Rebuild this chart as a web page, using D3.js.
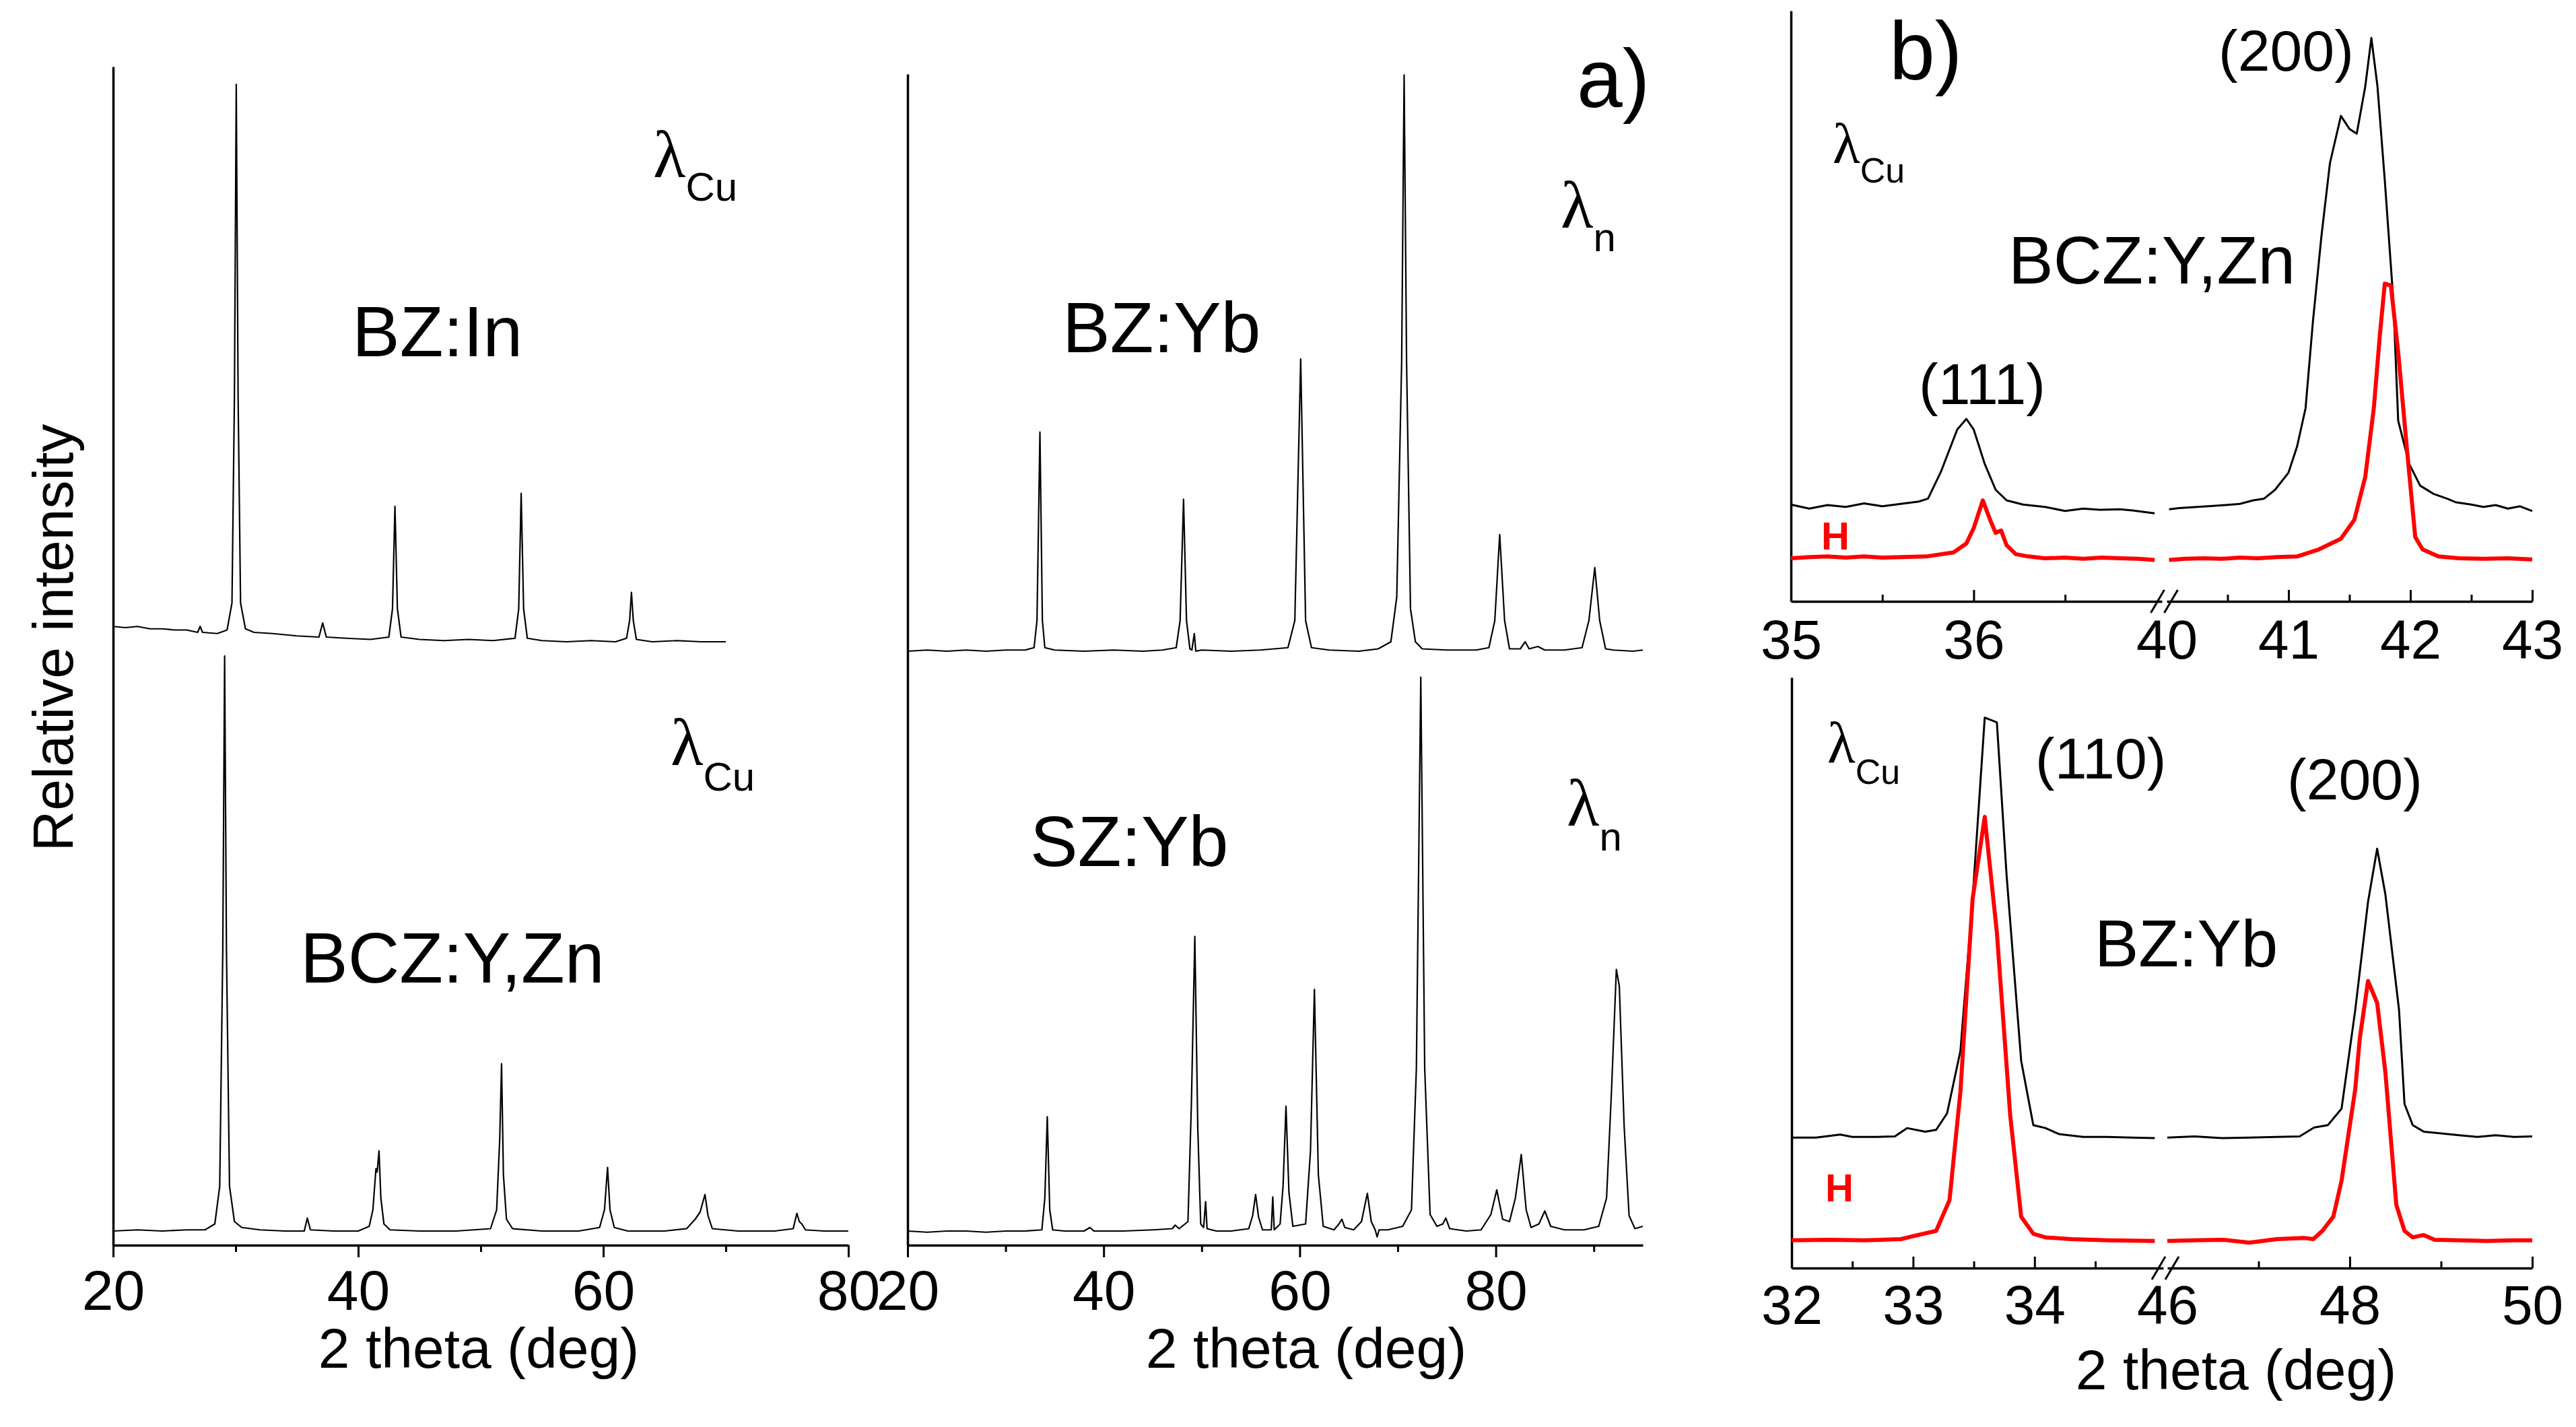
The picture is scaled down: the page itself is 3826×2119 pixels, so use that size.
<!DOCTYPE html>
<html><head><meta charset="utf-8">
<script src="https://cdn.jsdelivr.net/npm/d3@7/dist/d3.min.js"></script>
<style>
html,body{margin:0;padding:0;background:#fff;}
text{font-family:"Liberation Sans",Arial,Helvetica,sans-serif;fill:#000;}
</style>
</head><body>
<script>
// ---------------- DATA ----------------
// Panel a (2 theta in deg, relative intensity); upper traces are stacked by upperOffset
const ticksAL = [20, 40, 60, 80];
const minorAL = [30, 50, 70];
const ticksAR = [20, 40, 60, 80];
const minorAR = [30, 50, 70, 90];
const upperOffset = 50;

const bzIn = [[20,2.5],[21,2.4],[22,2.5],[23,2.3],[24,2.3],[25,2.2],[26,2.2],[26.9,2.0],[27.1,2.5],[27.3,2.0],[28.5,1.9],[29.3,2.2],[29.7,4.5],[29.9,22],[30.05,48.5],[30.2,22],[30.4,4.5],[30.8,2.3],[31.5,2.0],[33,1.9],[35,1.7],[36.8,1.6],[37.1,2.8],[37.4,1.6],[39,1.5],[41,1.4],[42.5,1.6],[42.8,4],[43.0,12.7],[43.2,4],[43.5,1.6],[45,1.4],[47,1.3],[49,1.4],[51,1.3],[52.8,1.5],[53.1,4],[53.3,13.8],[53.5,4],[53.8,1.5],[55,1.3],[57,1.2],[59,1.3],[61,1.2],[61.9,1.5],[62.15,3],[62.3,5.4],[62.45,3],[62.7,1.4],[64,1.2],[66,1.3],[68,1.2],[70,1.2]];

const bczYZn = [[20,1.2],[22,1.3],[24,1.2],[26,1.3],[27.5,1.3],[28.3,1.8],[28.7,5],[28.95,25],[29.1,50],[29.25,25],[29.5,5],[29.9,2],[30.5,1.5],[32,1.3],[34,1.2],[35.6,1.2],[35.85,2.3],[36.1,1.3],[38,1.2],[40,1.2],[40.9,1.6],[41.2,3],[41.45,6.5],[41.55,6.2],[41.7,8.0],[41.85,4],[42.1,1.8],[42.6,1.3],[45,1.2],[48,1.2],[50.8,1.4],[51.3,3],[51.55,9],[51.7,15.4],[51.85,6],[52.1,2.2],[52.6,1.4],[55,1.2],[58,1.2],[59.7,1.5],[60.1,3],[60.35,6.6],[60.55,3],[60.9,1.5],[62,1.2],[65,1.2],[66.8,1.4],[67.5,2.2],[67.9,2.8],[68.3,4.3],[68.55,2.5],[68.9,1.4],[71,1.2],[74,1.2],[75.5,1.4],[75.8,2.7],[76.0,2.0],[76.2,1.8],[76.5,1.3],[78,1.2],[80,1.2]];

const bzYb = [[20,0.4],[22,0.5],[24,0.4],[26,0.5],[28,0.4],[30,0.5],[32,0.5],[32.9,0.7],[33.2,3],[33.5,19.0],[33.75,3],[34,0.7],[35,0.5],[38,0.4],[41,0.5],[44,0.4],[46,0.5],[47.4,0.7],[47.8,3],[48.15,13.3],[48.45,3],[48.8,0.6],[49.0,0.5],[49.25,1.9],[49.4,0.4],[50,0.5],[53,0.4],[56,0.5],[58.8,0.7],[59.5,3],[60.1,25.2],[60.6,3],[61.2,0.7],[63,0.5],[66,0.4],[68,0.6],[69.3,1.2],[69.9,5],[70.4,25],[70.65,49.3],[70.9,25],[71.3,4],[71.8,1.2],[72.5,0.6],[75,0.5],[78,0.5],[79.3,0.7],[79.9,3],[80.4,10.3],[80.9,3],[81.4,0.6],[82.5,0.6],[83.0,1.2],[83.4,0.6],[84.3,0.8],[85,0.5],[87,0.5],[88.8,0.7],[89.5,3],[90.1,7.5],[90.6,3],[91.2,0.6],[92,0.5],[94,0.4],[95,0.5]];

const szYb = [[20,1.2],[22,1.1],[24,1.2],[26,1.2],[28,1.1],[30,1.2],[32,1.2],[33.7,1.3],[34.0,4],[34.25,10.9],[34.5,3],[34.8,1.3],[36,1.2],[38,1.2],[38.6,1.5],[39,1.2],[42,1.2],[45,1.3],[47,1.4],[47.3,1.7],[47.7,1.4],[48.6,2],[48.95,12],[49.3,26.2],[49.6,10],[49.9,1.8],[50.2,1.5],[50.4,3.7],[50.55,1.4],[51.5,1.2],[53,1.2],[54.8,1.4],[55.2,2.5],[55.5,4.3],[55.8,2.4],[56.2,1.3],[57.1,1.3],[57.25,4.1],[57.4,1.3],[58.0,1.8],[58.3,5],[58.6,11.8],[58.9,4.5],[59.3,1.6],[60.6,1.8],[61.1,8],[61.5,21.7],[61.9,6],[62.4,1.6],[63.5,1.3],[64.0,1.8],[64.3,2.2],[64.6,1.5],[65.5,1.3],[66.3,2],[66.9,4.4],[67.3,2],[67.7,1.3],[67.9,0.7],[68.1,1.3],[69,1.3],[70.5,1.6],[71.4,3],[71.9,15],[72.35,48.2],[72.75,15],[73.3,2.6],[74,1.6],[74.6,1.8],[74.9,2.3],[75.3,1.4],[77,1.2],[78.5,1.3],[79.5,2.6],[80.1,4.7],[80.7,2.2],[81.4,2],[82,4],[82.6,7.7],[83.1,3],[83.6,1.5],[84.4,1.8],[85.0,2.9],[85.6,1.6],[87,1.3],[89,1.3],[90.5,1.6],[91.3,4],[91.8,13],[92.3,23.4],[92.6,22],[93.1,10],[93.6,2.5],[94.2,1.4],[95,1.6]];

// Panel b, upper: BCZ:Y,Zn, broken axis 35-37 | 40-43
const ticksBU = [35, 36, 41, 42, 43];
const minorBU = [35.5, 36.5, 40.5, 41.5, 42.5];
const labelsBU = [35, 36, 40, 41, 42, 43];
const bczCuLeft = [[35.0,16.4],[35.1,15.7],[35.2,16.3],[35.3,16.0],[35.4,16.6],[35.5,16.1],[35.6,16.5],[35.7,16.9],[35.75,17.4],[35.82,21.9],[35.91,29.1],[35.96,30.9],[36.0,29.1],[36.06,23.3],[36.12,18.9],[36.18,17.1],[36.27,16.4],[36.39,16.0],[36.5,15.3],[36.6,15.7],[36.69,15.5],[36.8,15.6],[36.87,15.4],[36.99,14.9]];
const bczCuRight = [[40.02,15.6],[40.1,15.8],[40.25,16.0],[40.4,16.2],[40.48,16.3],[40.6,16.5],[40.71,17.1],[40.8,17.4],[40.89,18.9],[41.0,21.8],[41.07,26.2],[41.14,32.7],[41.2,47.3],[41.27,61.8],[41.34,74.2],[41.43,82.2],[41.5,80.0],[41.56,79.2],[41.63,87.2],[41.68,95.4],[41.73,87.2],[41.79,71.3],[41.86,51.0],[41.9,30.6],[41.99,23.3],[42.08,19.6],[42.19,18.2],[42.3,17.4],[42.37,16.8],[42.5,16.4],[42.6,16.0],[42.7,16.3],[42.8,15.7],[42.9,16.1],[43.0,15.3]];
const bczHLeft = [[35.0,7.3],[35.1,7.5],[35.2,7.6],[35.3,7.4],[35.4,7.6],[35.5,7.4],[35.6,7.5],[35.74,7.6],[35.89,8.3],[35.96,9.8],[36.0,12.4],[36.05,17.1],[36.09,13.8],[36.12,11.6],[36.15,12.0],[36.18,9.5],[36.23,8.0],[36.3,7.6],[36.39,7.3],[36.5,7.4],[36.6,7.2],[36.7,7.4],[36.8,7.3],[36.9,7.2],[36.99,7.0]];
const bczHRight = [[40.02,7.0],[40.15,7.2],[40.3,7.3],[40.45,7.2],[40.6,7.4],[40.75,7.3],[40.9,7.5],[41.07,7.6],[41.25,8.8],[41.43,10.6],[41.54,13.8],[41.63,21.1],[41.7,32.7],[41.75,45.2],[41.79,53.8],[41.84,53.5],[41.9,42.2],[41.97,26.2],[42.04,10.9],[42.1,8.8],[42.23,7.6],[42.4,7.3],[42.6,7.2],[42.8,7.3],[43.0,7.1]];

// Panel b, lower: BZ:Yb, broken axis 32-35 | 46-50
const ticksBL = [32, 33, 34, 48, 50];
const minorBL = [32.5, 33.5, 34.5, 47, 49];
const labelsBL = [32, 33, 34, 46, 48, 50];
const bzybCuLeft = [[32.0,22.1],[32.2,22.1],[32.4,22.6],[32.5,22.2],[32.7,22.2],[32.85,22.3],[32.95,23.7],[33.1,23.1],[33.19,23.4],[33.28,26.2],[33.39,36.8],[33.49,62.5],[33.59,93.2],[33.69,92.4],[33.77,66.5],[33.89,35.1],[33.99,24.2],[34.09,23.7],[34.2,22.7],[34.4,22.2],[34.6,22.2],[34.8,22.1],[34.99,22.0]];
const bzybCuRight = [[46.0,22.1],[46.3,22.3],[46.6,22.0],[46.9,22.1],[47.2,22.2],[47.45,22.3],[47.61,23.8],[47.76,24.2],[47.91,27.0],[48.06,43.7],[48.2,62.0],[48.3,71.0],[48.39,63.3],[48.54,43.7],[48.6,27.8],[48.69,24.2],[48.81,23.1],[49.0,22.8],[49.2,22.5],[49.4,22.2],[49.6,22.5],[49.8,22.2],[50.0,22.3]];
const bzybHLeft = [[32.0,4.7],[32.3,4.8],[32.6,4.7],[32.9,4.9],[33.0,5.4],[33.19,6.3],[33.3,11.5],[33.39,29.9],[33.49,62.5],[33.59,76.4],[33.69,56.8],[33.8,25.8],[33.89,8.7],[33.99,5.8],[34.09,5.2],[34.3,4.9],[34.6,4.7],[34.99,4.6]];
const bzybHRight = [[46.0,4.6],[46.3,4.7],[46.6,4.8],[46.9,4.3],[47.2,4.9],[47.5,5.1],[47.6,4.9],[47.7,6.3],[47.82,8.7],[47.91,14.8],[48.06,30.3],[48.11,38.9],[48.2,48.6],[48.3,44.9],[48.39,33.2],[48.51,10.7],[48.6,6.3],[48.69,5.2],[48.81,5.6],[48.93,4.8],[49.2,4.7],[49.5,4.6],[49.8,4.7],[50.0,4.7]];

// ---------------- DRAW ----------------
const W = 3826, H = 2119;
const FONT = '"Liberation Sans",Arial,Helvetica,sans-serif';
const svg = d3.select('body').append('svg').attr('width', W).attr('height', H)
  .style('background', '#fff');

// scales
const yA  = d3.scaleLinear().domain([0, 100]).range([1849, 99]);
const xAL = d3.scaleLinear().domain([20, 80]).range([168, 1260]);
const xAR = d3.scaleLinear().domain([20, 95]).range([1348, 2440]);

const yBU  = d3.scaleLinear().domain([0, 100]).range([893, 16]);
const xBU1 = d3.scaleLinear().domain([35, 37.03]).range([2660, 3211]);
const xBU2 = d3.scaleLinear().domain([40, 43]).range([3218, 3761]);
const yBL  = d3.scaleLinear().domain([0, 100]).range([1883, 1006]);
const xBL1 = d3.scaleLinear().domain([32, 35.06]).range([2661, 3213]);
const xBL2 = d3.scaleLinear().domain([46, 50]).range([3219, 3761]);

function styleAxis(g, fs) {
  g.select('.domain').attr('stroke', '#000').attr('stroke-width', 3.5);
  g.selectAll('.tick line').attr('stroke', '#000').attr('stroke-width', 3);
  g.selectAll('.tick text').attr('fill', '#000').style('font-family', FONT).style('font-size', fs + 'px');
}

function trace(x, y, data, off, color, sw) {
  svg.append('path').datum(data)
    .attr('fill', 'none').attr('stroke', color).attr('stroke-width', sw)
    .attr('stroke-linejoin', 'round')
    .attr('d', d3.line().x(d => x(d[0])).y(d => y(d[1] + off)));
}

// ---- panel a axes ----
function axesA(x, majors, minors, yTop) {
  const y0 = yA(0);
  const gM = svg.append('g').attr('transform', `translate(0,${y0})`)
    .call(d3.axisBottom(x).tickValues(majors).tickSize(18).tickSizeOuter(0).tickPadding(18).tickFormat(d3.format('d')));
  styleAxis(gM, 84);
  const gm = svg.append('g').attr('transform', `translate(0,${y0})`)
    .call(d3.axisBottom(x).tickValues(minors).tickSize(10).tickFormat(''));
  gm.select('.domain').remove();
  styleAxis(gm, 84);
  const yAx = d3.scaleLinear().domain([0, yA.invert(yTop)]).range([y0, yTop]);
  const gy = svg.append('g').attr('transform', `translate(${x.range()[0]},0)`)
    .call(d3.axisLeft(yAx).tickValues([]).tickSizeOuter(0));
  styleAxis(gy, 84);
}
axesA(xAL, ticksAL, minorAL, 99);
axesA(xAR, ticksAR, minorAR, 110);

trace(xAL, yA, bzIn, upperOffset, '#000', 2.2);
trace(xAL, yA, bczYZn, 0, '#000', 2.2);
trace(xAR, yA, bzYb, upperOffset, '#000', 2.2);
trace(xAR, yA, szYb, 0, '#000', 2.2);

// ---- panel b axes ----
function axesB(x1, x2, y, majors, minors, labels, pad) {
  const y0 = y.range()[0];
  [x1, x2].forEach(x => {
    const dom = x.domain();
    const inR = v => v >= dom[0] && v <= dom[1];
    const gl = svg.append('g').attr('transform', `translate(0,${y0})`)
      .call(d3.axisBottom(x).tickValues(labels.filter(inR)).tickSize(0).tickSizeOuter(0).tickPadding(pad).tickFormat(d3.format('d')));
    styleAxis(gl, 82);
    const gM = svg.append('g').attr('transform', `translate(0,${y0})`)
      .call(d3.axisBottom(x).tickValues(majors.filter(inR)).tickSize(-17).tickFormat(''));
    gM.select('.domain').remove();
    styleAxis(gM, 82);
    const gm = svg.append('g').attr('transform', `translate(0,${y0})`)
      .call(d3.axisBottom(x).tickValues(minors.filter(inR)).tickSize(-10).tickFormat(''));
    gm.select('.domain').remove();
    styleAxis(gm, 82);
  });
  const gy = svg.append('g').attr('transform', `translate(${x1.range()[0]},0)`)
    .call(d3.axisLeft(y).tickValues([]).tickSizeOuter(0));
  styleAxis(gy, 82);
  // break marks
  const bx = (x1.range()[1] + x2.range()[0]) / 2;
  [-10, 10].forEach(dx => {
    svg.append('line').attr('x1', bx + dx - 10).attr('y1', y0 + 17)
      .attr('x2', bx + dx + 10).attr('y2', y0 - 17)
      .attr('stroke', '#000').attr('stroke-width', 3);
  });
}
axesB(xBU1, xBU2, yBU, ticksBU, minorBU, labelsBU, 27);
axesB(xBL1, xBL2, yBL, ticksBL, minorBL, labelsBL, 25);

trace(xBU1, yBU, bczCuLeft, 0, '#000', 3);
trace(xBU2, yBU, bczCuRight, 0, '#000', 3);
trace(xBU1, yBU, bczHLeft, 0, '#ff0000', 6);
trace(xBU2, yBU, bczHRight, 0, '#ff0000', 6);
trace(xBL1, yBL, bzybCuLeft, 0, '#000', 3);
trace(xBL2, yBL, bzybCuRight, 0, '#000', 3);
trace(xBL1, yBL, bzybHLeft, 0, '#ff0000', 6);
trace(xBL2, yBL, bzybHRight, 0, '#ff0000', 6);

// ---- text ----
function txt(x, y, s, fs, opt = {}) {
  const t = svg.append('text').attr('x', x).attr('y', y).text(s)
    .style('font-size', fs + 'px').style('font-family', FONT);
  if (opt.anchor) t.attr('text-anchor', opt.anchor);
  if (opt.bold) t.style('font-weight', 'bold');
  if (opt.fill) t.style('fill', opt.fill);
  return t;
}
function lambda(x, y, sub, fl, fs, dy) {
  const t = svg.append('text').attr('x', x).attr('y', y);
  t.append('tspan').text('λ').style('font-family', '"Liberation Serif","Times New Roman",serif').style('font-size', fl + 'px');
  t.append('tspan').text(sub).attr('dy', dy).style('font-family', FONT).style('font-size', fs + 'px');
}

// panel a
txt(523, 529, 'BZ:In', 106);
txt(1578, 523, 'BZ:Yb', 106);
txt(446, 1459, 'BCZ:Y,Zn', 106);
txt(1530, 1286, 'SZ:Yb', 106);
txt(2342, 159, 'a)', 122);
lambda(970, 263, 'Cu', 100, 60, 35);
lambda(996, 1136, 'Cu', 100, 60, 38);
lambda(2318, 338, 'n', 100, 60, 35);
lambda(2327, 1226, 'n', 100, 60, 37);
txt(711, 2031, '2 theta (deg)', 84, {anchor: 'middle'});
txt(1940, 2031, '2 theta (deg)', 84, {anchor: 'middle'});
svg.append('text').attr('transform', 'translate(108,947) rotate(-90)')
  .attr('text-anchor', 'middle').text('Relative intensity')
  .style('font-size', '84px').style('font-family', FONT);

// panel b
txt(2806, 118, 'b)', 122);
txt(3295, 105, '(200)', 86);
lambda(2722, 242, 'Cu', 84, 52, 29);
txt(2983, 421, 'BCZ:Y,Zn', 100);
txt(2850, 600, '(111)', 86);
txt(2705, 816, 'H', 58, {bold: true, fill: '#ff0000'});
lambda(2714, 1132, 'Cu', 86, 52, 32);
txt(3023, 1156, '(110)', 86);
txt(3397, 1187, '(200)', 86);
txt(3111, 1435, 'BZ:Yb', 98);
txt(2711, 1784, 'H', 58, {bold: true, fill: '#ff0000'});
txt(3321, 2063, '2 theta (deg)', 84, {anchor: 'middle'});
</script>
</body></html>
